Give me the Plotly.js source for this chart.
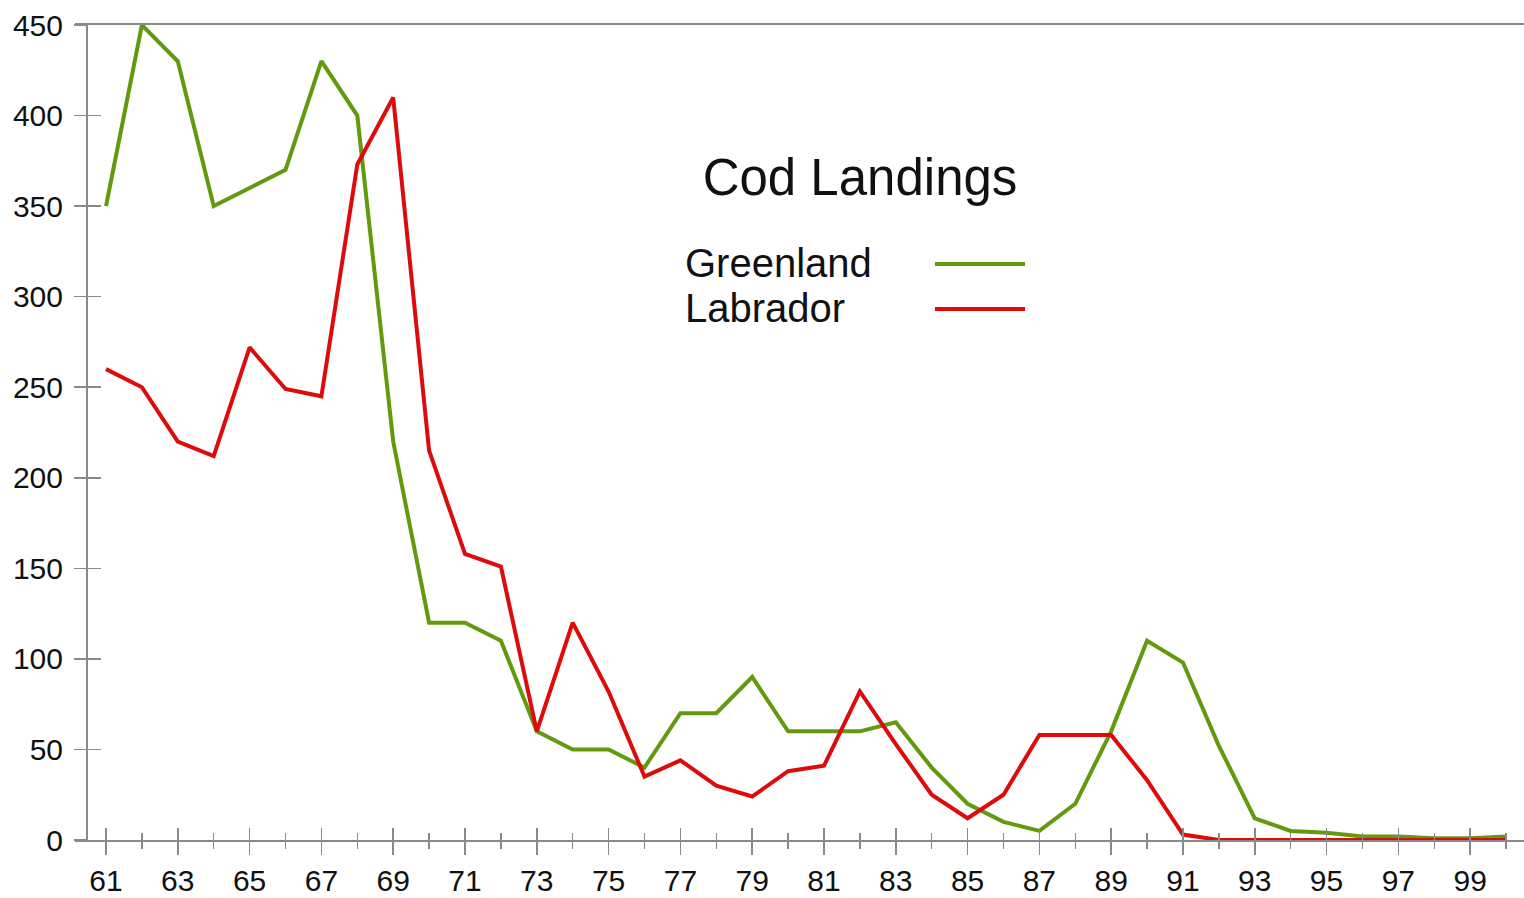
<!DOCTYPE html>
<html>
<head>
<meta charset="utf-8">
<script src="https://cdn.plot.ly/plotly-3.0.1.min.js"></script>
<style>html,body{margin:0;padding:0;background:#fff;}#chart{width:1524px;height:898px;}</style>
</head>
<body>
<div id="chart"></div>
<script>
const years = [61,62,63,64,65,66,67,68,69,70,71,72,73,74,75,76,77,78,79,80,81,82,83,84,85,86,87,88,89,90,91,92,93,94,95,96,97,98,99,100];
const greenland = [350,450,430,350,360,370,430,400,220,120,120,110,60,50,50,40,70,70,90,60,60,60,65,40,20,10,5,20,60,110,98,52,12,5,4,2,2,1,1,2];
const labrador = [260,250,220,212,272,249,245,373,410,215,158,151,60,120,82,35,44,30,24,38,41,82,53,25,12,25,58,58,58,33,3,0,0,0,0,0,0,0,0,0];
const seriesNames = ['Greenland','Labrador'];
const seriesColors = ['#62990f','#dd0b0b'];
const chartTitle = 'Cod Landings';

const FONT = 'Liberation Sans, Arial, Helvetica, sans-serif';
const AX = '#8a8a8a';
const XR = [60.136, 100.5];
const YR = [0, 450];

const traces = [
  {x: years, y: greenland, name: seriesNames[0], type: 'scatter', mode: 'lines',
   line: {color: seriesColors[0], width: 4}, showlegend: false},
  {x: years, y: labrador, name: seriesNames[1], type: 'scatter', mode: 'lines',
   line: {color: seriesColors[1], width: 4}, showlegend: false},
  // empty helper trace so the overlay axes (inner half of the crossing ticks) are drawn
  {x: [], y: [], type: 'scatter', mode: 'lines', xaxis: 'x2', yaxis: 'y2', showlegend: false, hoverinfo: 'skip'}
];

const W = 1449, H = 815, L = 75, T = 25;
const px = v => (v - L) / W;
const py = v => (T + H - v) / H;

const layout = {
  width: 1524, height: 898,
  margin: {l: 75, r: 0, t: 25, b: 58, pad: 0},
  paper_bgcolor: '#fff', plot_bgcolor: 'rgba(0,0,0,0)',
  font: {family: FONT, color: '#111', size: 30},
  showlegend: false,
  title: {text: chartTitle, font: {family: FONT, size: 51, color: '#111'},
          xref: 'paper', yref: 'paper', x: px(860), y: py(177), xanchor: 'center', yanchor: 'middle'},
  xaxis: {range: XR, tickmode: 'linear', tick0: 61, dtick: 2,
          showgrid: false, zeroline: false, showline: true, linecolor: AX, linewidth: 2,
          mirror: true,
          ticks: 'outside', ticklen: 13, tickcolor: AX, tickwidth: 1.5,
          minor: {tickmode: 'linear', tick0: 61, dtick: 1, ticks: 'outside', ticklen: 7, tickcolor: AX, tickwidth: 1.5, showgrid: false},
          tickfont: {family: FONT, size: 30, color: '#111'}, ticklabelstandoff: 0,
          fixedrange: true},
  xaxis2: {overlaying: 'x', range: XR, tickmode: 'linear', tick0: 61, dtick: 2,
          showgrid: false, zeroline: false, showline: false, showticklabels: false,
          ticks: 'inside', ticklen: 12, tickcolor: AX, tickwidth: 1.5,
          minor: {tickmode: 'linear', tick0: 61, dtick: 1, ticks: 'inside', ticklen: 7, tickcolor: AX, tickwidth: 1.5, showgrid: false},
          side: 'bottom', anchor: 'y2', fixedrange: true},
  yaxis: {range: YR, tickmode: 'linear', tick0: 0, dtick: 50,
          anchor: 'free', position: px(87),
          showgrid: false, zeroline: false, showline: true, linecolor: AX, linewidth: 2,
          ticks: 'outside', ticklen: 12, tickcolor: AX, tickwidth: 1.5,
          tickfont: {family: FONT, size: 30, color: '#111'}, ticklabelstandoff: 5,
          fixedrange: true},
  yaxis2: {overlaying: 'y', range: YR, tickmode: 'linear', tick0: 0, dtick: 50,
          anchor: 'free', position: px(87), side: 'left',
          showgrid: false, zeroline: false, showline: false, showticklabels: false,
          ticks: 'inside', ticklen: 13, tickcolor: AX, tickwidth: 1.5, fixedrange: true},
  annotations: [
    {text: seriesNames[0], xref: 'paper', yref: 'paper', x: px(683), y: py(263), xanchor: 'left', yanchor: 'middle',
     showarrow: false, font: {family: FONT, size: 40, color: '#111'}},
    {text: seriesNames[1], xref: 'paper', yref: 'paper', x: px(683), y: py(308), xanchor: 'left', yanchor: 'middle',
     showarrow: false, font: {family: FONT, size: 40, color: '#111'}}
  ],
  shapes: [
    {type: 'line', xref: 'paper', yref: 'paper', x0: px(935), x1: px(1025), y0: py(264), y1: py(264),
     line: {color: seriesColors[0], width: 4}},
    {type: 'line', xref: 'paper', yref: 'paper', x0: px(935), x1: px(1025), y0: py(309), y1: py(309),
     line: {color: seriesColors[1], width: 4}}
  ]
};

Plotly.newPlot('chart', traces, layout, {displayModeBar: false, staticPlot: true});
</script>
</body>
</html>
